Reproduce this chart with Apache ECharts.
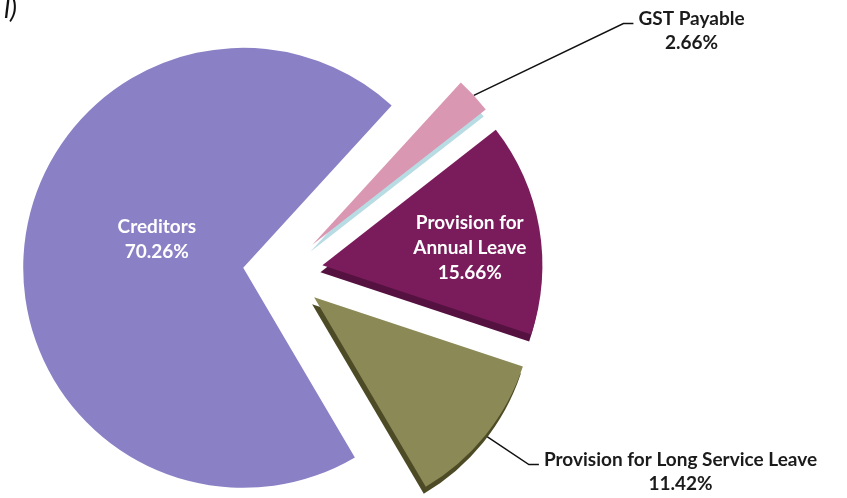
<!DOCTYPE html>
<html>
<head>
<meta charset="utf-8">
<script src="https://cdn.jsdelivr.net/npm/echarts@6/dist/echarts.min.js"></script>
<style>
  html, body { margin: 0; padding: 0; background: #ffffff; }
  #chart { width: 847px; height: 498px; }
</style>
</head>
<body>
<div id="chart"></div>
<script>
// Current liabilities breakdown (share of total, %)
const categories = ['Creditors', 'GST Payable', 'Provision for\nAnnual Leave', 'Provision for Long Service Leave'];
const shares = [70.26, 2.66, 15.66, 11.42];

// Face colours and the darker "thickness" colours of each slice
const faceColors = ['#8a80c6', '#da97b2', '#7a1c5b', '#8b8a57'];
const sideColors = ['rgba(0,0,0,0)', '#b8dce4', '#551240', '#4d4b25'];

// Label placement: inside labels are nudged, outside labels sit beside the pie
// (outside labels are anchored by their top edge; the leader line meets the first line)
const labelKinds = ['inside', 'outside', 'inside', 'outside'];
const labelPlacement = [
  { dx: 26, dy: -17 },
  { x: 689, y: -8, align: 'center', verticalAlign: 'top' },
  { dx: 36, dy: 2 },
  { x: 678, y: 433, align: 'center', verticalAlign: 'top' }
];

const FONT = 'Lato, "Open Sans", sans-serif';
const CENTER = [283, 272];
const RADIUS = 220;
const START = 300.5;     // degrees, where the first slice begins
const EXPLODE = 40;      // how far each slice is pulled out along its bisector
const DEPTH = [-2, 7];   // offset of the slice thickness

const total = shares.reduce((a, b) => a + b, 0);

// Bisector angle of each slice (clockwise from START)
const midAngles = [];
let acc = 0;
shares.forEach(v => {
  midAngles.push(START - (acc + v / 2) / total * 360);
  acc += v;
});

function labelFor(i) {
  if (labelKinds[i] === 'inside') {
    return { show: true, position: 'inside', color: '#ffffff', lineHeight: 25 };
  }
  // transparent box with top padding so the leader line joins just under the name
  return {
    show: true,
    position: 'outside',
    color: '#1b1b1b',
    lineHeight: 24,
    padding: [15, 0, 0, 5],
    backgroundColor: 'rgba(255,255,255,0)'
  };
}

// One pie per slice so that each slice can be pulled out on its own
const series = categories.map((_, k) => {
  const rad = midAngles[k] * Math.PI / 180;
  const cx = CENTER[0] + EXPLODE * Math.cos(rad);
  const cy = CENTER[1] - EXPLODE * Math.sin(rad);
  return {
    type: 'pie',
    name: categories[k],
    center: [cx, cy],
    radius: RADIUS,
    startAngle: START,
    clockwise: true,
    silent: true,
    emphasis: { disabled: true },
    label: {
      fontFamily: FONT,
      fontWeight: 'bold',
      fontSize: 19,
      formatter: '{b}\n{c}%'
    },
    labelLine: {
      length: 20,
      length2: 10,
      lineStyle: { color: '#111111', width: 1.5 }
    },
    labelLayout: function (params) {
      return labelPlacement[params.dataIndex];
    },
    data: categories.map((name, i) => {
      const own = i === k;
      return {
        name: name,
        value: shares[i],
        itemStyle: own
          ? {
              color: faceColors[i],
              shadowColor: sideColors[i],
              shadowBlur: 0,
              shadowOffsetX: DEPTH[0],
              shadowOffsetY: DEPTH[1]
            }
          : { color: 'rgba(0,0,0,0)' },
        label: own ? labelFor(i) : { show: false },
        labelLine: { show: own && labelKinds[i] === 'outside' }
      };
    })
  };
});

const chart = echarts.init(document.getElementById('chart'), null, { renderer: 'canvas' });
chart.setOption({
  animation: false,
  backgroundColor: '#ffffff',
  graphic: [{
    type: 'text',
    left: 4,
    top: -4,
    style: { text: 'l)', font: 'italic 27px ' + FONT, fill: '#111' }
  }],
  series: series
});
</script>
</body>
</html>
